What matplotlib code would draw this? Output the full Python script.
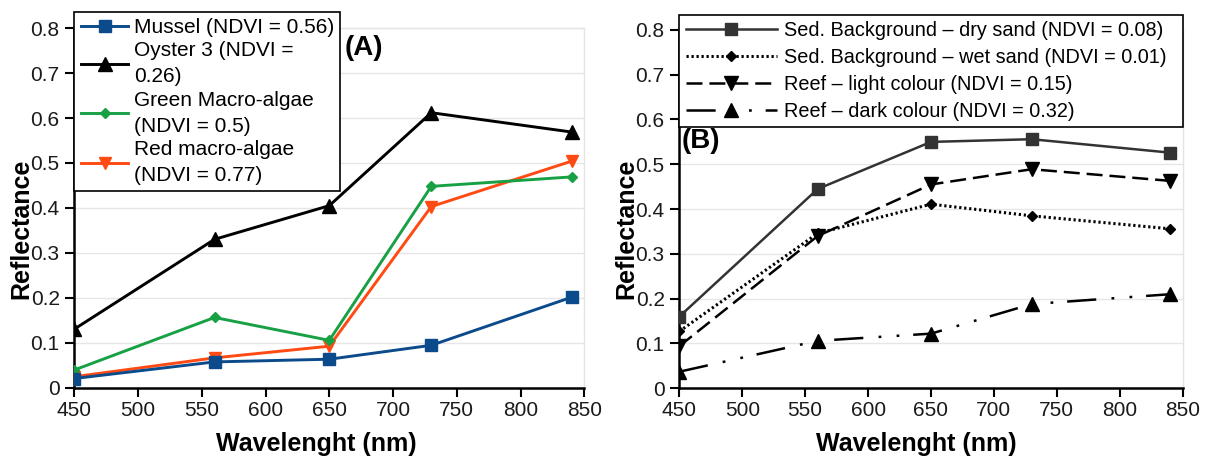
import matplotlib
matplotlib.use("Agg")
import matplotlib.pyplot as plt

plt.rcParams["font.family"] = ["Liberation Sans", "DejaVu Sans"]
plt.rcParams["lines.scale_dashes"] = False

# Wavelengths of the sensor bands (nm)
wavelength = [450, 560, 650, 730, 840]

# Panel A: biological targets
mussel = [0.020, 0.057, 0.063, 0.094, 0.201]
oyster3 = [0.130, 0.330, 0.405, 0.612, 0.569]
green_algae = [0.039, 0.156, 0.105, 0.448, 0.469]
red_algae = [0.024, 0.066, 0.092, 0.403, 0.504]

# Panel B: sediment background and reef surfaces
dry_sand = [0.160, 0.445, 0.550, 0.556, 0.526]
wet_sand = [0.127, 0.346, 0.411, 0.385, 0.356]
reef_light = [0.094, 0.340, 0.455, 0.489, 0.463]
reef_dark = [0.037, 0.106, 0.122, 0.188, 0.210]

labels_a = [
    "Mussel (NDVI = 0.56)",
    "Oyster 3 (NDVI =\n0.26)",
    "Green Macro-algae\n(NDVI = 0.5)",
    "Red macro-algae\n(NDVI = 0.77)",
]
labels_b = [
    "Sed. Background \u2013 dry sand (NDVI = 0.08)",
    "Sed. Background \u2013 wet sand (NDVI = 0.01)",
    "Reef \u2013 light colour (NDVI = 0.15)",
    "Reef \u2013 dark colour (NDVI = 0.32)",
]

x_ticks = [450, 500, 550, 600, 650, 700, 750, 800, 850]
y_ticks = [0, 0.1, 0.2, 0.3, 0.4, 0.5, 0.6, 0.7, 0.8]
y_tick_labels = ["0", "0.1", "0.2", "0.3", "0.4", "0.5", "0.6", "0.7", "0.8"]

W, H = 1208, 461
fig = plt.figure(figsize=(W / 100, H / 100), dpi=100)
ax_a = fig.add_axes([74.3 / W, 73.5 / H, 510 / W, 359.2 / H])
ax_b = fig.add_axes([679.3 / W, 72.7 / H, 503.4 / W, 358.4 / H])


def style_axes(ax):
    ax.set_xlim(450, 850)
    ax.set_ylim(0, 0.8)
    ax.set_xticks(x_ticks)
    ax.set_yticks(y_ticks)
    ax.set_yticklabels(y_tick_labels)
    ax.tick_params(axis="both", labelsize=15, length=6.5, width=1.5,
                   color="black", labelcolor="#1a1a1a")
    ax.tick_params(axis="y", pad=4)
    ax.tick_params(axis="x", pad=3)
    for side in ("left", "bottom"):
        ax.spines[side].set_linewidth(1.8)
        ax.spines[side].set_color("black")
    for side in ("top", "right"):
        ax.spines[side].set_linewidth(1.0)
        ax.spines[side].set_color("#e4e4e4")
    ax.yaxis.grid(True, color="#e6e6e6", linewidth=1.0)
    ax.set_axisbelow(True)


style_axes(ax_a)
style_axes(ax_b)

# Panel A
ax_a.plot(wavelength, mussel, color="#0b4a8b", lw=2.1, marker="s",
          markersize=8.5, label=labels_a[0], zorder=6)
ax_a.plot(wavelength, oyster3, color="black", lw=2.1, marker="^",
          markersize=10, label=labels_a[1], zorder=4)
ax_a.plot(wavelength, green_algae, color="#18a045", lw=2.1, marker="D",
          markersize=5.5, label=labels_a[2], zorder=5)
ax_a.plot(wavelength, red_algae, color="#ff4a14", lw=2.1, marker="v",
          markersize=8.5, label=labels_a[3], zorder=4)

leg_a = ax_a.legend(loc="upper left", bbox_to_anchor=(0, 1.046),
                    borderaxespad=0, fontsize=15, handlelength=2.3,
                    handletextpad=0.25, borderpad=0.3, labelspacing=0.2,
                    fancybox=False, framealpha=1, edgecolor="black",
                    numpoints=1)
leg_a.get_frame().set_linewidth(1.2)
for t in leg_a.get_texts():
    t.set_linespacing(1.48)

ax_a.text(0.53, 0.944, "(A)", transform=ax_a.transAxes, fontsize=20,
          fontweight="bold", ha="left", va="center")

# Panel B
ax_b.plot(wavelength, dry_sand, color="#333333", lw=1.8, marker="s",
          markersize=8.5, label=labels_b[0], zorder=5)
ax_b.plot(wavelength, wet_sand, color="black", lw=2.2, linestyle=(0, (1.6, 2.0)),
          marker="D", markersize=5.5, label=labels_b[1], zorder=4)
ax_b.plot(wavelength, reef_light, color="black", lw=1.8,
          linestyle=(0, (11.5, 5)), marker="v", markersize=9.5,
          label=labels_b[2], zorder=4)
ax_b.plot(wavelength, reef_dark, color="black", lw=1.8,
          linestyle=(0, (21, 11, 2, 11, 2, 10)), marker="^", markersize=10,
          label=labels_b[3], zorder=4)

leg_b = ax_b.legend(loc="upper left", bbox_to_anchor=(0, 1.042, 1, 0),
                    mode="expand", borderaxespad=0, fontsize=14.3,
                    handlelength=4.6, handletextpad=0.35, borderpad=0.32,
                    labelspacing=0.4, fancybox=False, framealpha=1,
                    edgecolor="black", numpoints=1)
leg_b.get_frame().set_linewidth(1.2)

ax_b.text(0.005, 0.69, "(B)", transform=ax_b.transAxes, fontsize=20,
          fontweight="bold", ha="left", va="center")

# Axis titles
for xc in (316.5 / W, 916.6 / W):
    fig.text(xc, (H - 444) / H, "Wavelenght (nm)", fontsize=18,
             fontweight="bold", ha="center", va="center")
for xc in (21 / W, 626 / W):
    fig.text(xc, (H - 229) / H, "Reflectance", fontsize=18,
             fontweight="bold", ha="center", va="center", rotation=90)

fig.savefig("out.png", dpi=100, facecolor="white")
